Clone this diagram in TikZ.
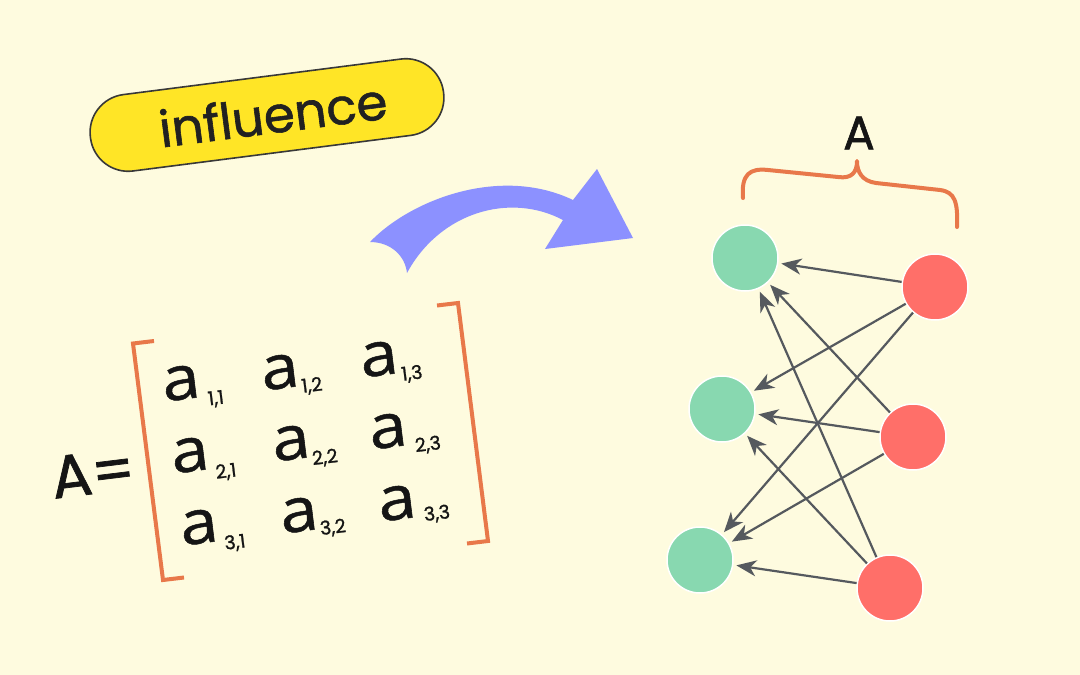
\documentclass[tikz,border=0pt]{standalone}
\usepackage{fontspec}
\setmainfont{Poppins}[FakeBold=1.2]
\newfontfamily\boldish{Poppins}[FakeBold=1.2]
\newfontfamily\letterfont{Open Sans}[FakeBold=0.8]
\usetikzlibrary{arrows.meta}
\definecolor{bgc}{HTML}{FEFBDF}
\definecolor{pillc}{HTML}{FFE526}
\definecolor{bluec}{HTML}{8C91FF}
\definecolor{greenc}{HTML}{88D8B0}
\definecolor{redc}{HTML}{FF6F69}
\definecolor{orangec}{HTML}{E8784A}
\definecolor{edgec}{HTML}{55595E}
\definecolor{inkc}{HTML}{151515}
\tikzset{
  gnode/.style={circle, fill=greenc, draw=white, line width=1.5pt, minimum size=66pt, inner sep=0pt},
  rnode/.style={circle, fill=redc, draw=white, line width=1.5pt, minimum size=66pt, inner sep=0pt},
  edge/.style={draw=edgec, line width=2.2pt, -{Stealth[length=20pt,width=16pt,inset=6pt]}, shorten >=3pt},
  ent/.style={inner sep=0pt, rotate=7, text=inkc, font=\boldish\fontsize{60}{66}\selectfont},
  lett/.style={inner sep=0pt, rotate=7, text=inkc, font=\letterfont\fontsize{61}{66}\selectfont},
  sub/.style={inner sep=0pt, rotate=7, text=inkc, font=\fontsize{19}{22}\selectfont},
  bracketline/.style={draw=orangec, line width=4pt},
}
\begin{document}
\begin{tikzpicture}[x=1pt,y=-1pt]
\useasboundingbox (0,0) rectangle (1080,675);
\fill[bgc] (0,0) rectangle (1080,675);

% pill
\node[draw=inkc!85, line width=1.6pt, fill=pillc, rounded corners=38pt, minimum width=356pt, minimum height=77pt,
  rotate=7.3, text=inkc!95, font=\boldish\fontsize{50}{56}\selectfont] (pill) at (267,115) {\hspace*{12pt}influence};

% curved arrow
\fill[bluec] (370,242) .. controls (410,200) and (500,165) .. (573,200) -- (597,169) -- (633,238) -- (545,249) -- (563,220)
  .. controls (510,192) and (440,212) .. (407,273) .. controls (405,255) and (390,242) .. cycle;

% matrix
\node[ent] (Aeq) at (93,473) {A=};
\node[lett] (a11) at (181,383) {\scalebox{1.12}[1]{a}};
\node[lett] (a12) at (280,372) {\scalebox{1.12}[1]{a}};
\node[lett] (a13) at (379,359) {\scalebox{1.12}[1]{a}};
\node[lett] (a21) at (190,455) {\scalebox{1.12}[1]{a}};
\node[lett] (a22) at (291,443) {\scalebox{1.12}[1]{a}};
\node[lett] (a23) at (388,431) {\scalebox{1.12}[1]{a}};
\node[lett] (a31) at (199,527) {\scalebox{1.12}[1]{a}};
\node[lett] (a32) at (299,515) {\scalebox{1.12}[1]{a}};
\node[lett] (a33) at (397,503) {\scalebox{1.12}[1]{a}};
\node[sub] (s11) at (216,399) {1,1};
\node[sub] (s12) at (312,386) {1,2};
\node[sub] (s13) at (412,374) {1,3};
\node[sub] (s21) at (226,472) {2,1};
\node[sub] (s22) at (325,458) {2,2};
\node[sub] (s23) at (428,445) {2,3};
\node[sub] (s31) at (235,543) {3,1};
\node[sub] (s32) at (333,528) {3,2};
\node[sub] (s33) at (437,514) {3,3};
\draw[bracketline] (154,341) -- (133,343.5) -- (163,580) -- (184,577.5);
\draw[bracketline] (437,305.5) -- (458,303) -- (488,541) -- (467,543.5);

% graph
\node[gnode] (g1) at (745,258) {};
\node[gnode] (g2) at (722,409) {};
\node[gnode] (g3) at (700,560) {};
\node[rnode] (r1) at (935,287) {};
\node[rnode] (r2) at (913,437) {};
\node[rnode] (r3) at (890,588) {};
\foreach \r in {r1,r2,r3}{
  \foreach \g in {g1,g2,g3}{
    \draw[edge] (\r) -- (\g);
  }
}

% brace and label
\draw[draw=orangec, line width=4pt, line cap=round, line join=round]
  (743,198) .. controls (741,174) and (750,168) .. (768,170) -- (838,177)
  .. controls (852,179) and (857,172) .. (857,161)
  .. controls (857,172) and (862,181) .. (876,183) -- (940,190)
  .. controls (955,192) and (958,202) .. (957,227);
\node[text=inkc, inner sep=0pt, font=\fontsize{47}{52}\selectfont] (Alabel) at (859,133) {A};
\end{tikzpicture}
\end{document}
